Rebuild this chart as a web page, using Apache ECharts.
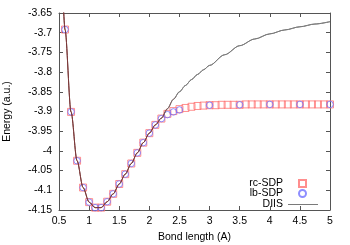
<!DOCTYPE html>
<html><head><meta charset="utf-8">
<script src="https://cdn.jsdelivr.net/npm/echarts@6/dist/echarts.min.js"></script>
<style>html,body{margin:0;padding:0;background:#fff}#c{width:350px;height:245px}</style>
</head><body><div id="c"></div>
<script>
var xTicks = [0.5, 1, 1.5, 2, 2.5, 3, 3.5, 4, 4.5, 5];
var yTicks = [-4.15, -4.1, -4.05, -4, -3.95, -3.9, -3.85, -3.8, -3.75, -3.7, -3.65];

var rcX = [0.6,0.7,0.8,0.9,1.0,1.1,1.2,1.3,1.4,1.5,1.6,1.7,1.8,1.9,2.0,2.1,2.2,2.3,2.4,2.5,
           2.6,2.7,2.8,2.9,3.0,3.1,3.2,3.3,3.4,3.5,3.6,3.7,3.8,3.9,4.0,4.1,4.2,4.3,4.4,4.5,4.6,4.7,4.8,4.9,5.0];
var rcY = [-3.692,-3.901,-4.025,-4.093,-4.130,-4.144,-4.144,-4.129,-4.109,-4.084,-4.059,-4.032,-4.005,-3.979,-3.955,-3.934,-3.918,-3.906,-3.899,-3.894,
           -3.891,-3.888,-3.886,-3.885,-3.884,-3.884,-3.883,-3.883,-3.883,-3.883,-3.882,-3.882,-3.882,-3.882,-3.882,-3.882,-3.882,-3.882,-3.882,-3.882,-3.882,-3.882,-3.882,-3.882,-3.882];

var lbX = [0.6,0.7,0.8,0.9,1.0,1.1,1.2,1.3,1.4,1.5,1.6,1.7,1.8,1.9,2.0,2.1,2.2,2.3,2.4,2.5,3.0,3.5,4.0,4.5,5.0];
var lbY = [-3.692,-3.901,-4.025,-4.093,-4.130,-4.144,-4.144,-4.129,-4.109,-4.084,-4.059,-4.032,-4.005,-3.979,-3.955,-3.934,-3.918,-3.908,-3.901,-3.896,-3.884,-3.883,-3.882,-3.882,-3.882];

var diisX = [0.55,0.6,0.7,0.8,0.9,1.0,1.1,1.2,1.3,1.4,1.5,1.6,1.7,1.8,1.9,2.0,2.1,2.2,2.3,2.4,2.5,2.6,2.7,2.8,2.9,3.0,3.25,3.5,3.75,4.0,4.25,4.5,4.75,5.0];
var diisY = [-3.55,-3.692,-3.901,-4.025,-4.093,-4.130,-4.144,-4.144,-4.129,-4.109,-4.084,-4.059,-4.032,-4.005,-3.979,-3.955,-3.934,-3.917,-3.893,-3.869,-3.850,-3.834,-3.819,-3.806,-3.794,-3.783,-3.756,-3.733,-3.716,-3.703,-3.693,-3.685,-3.678,-3.672];

function pairs(xs, ys){ return xs.map(function(x,i){ return [x, ys[i]]; }); }
function fmt(v){ return String(parseFloat(v.toFixed(2))); }

var FONT = 'Liberation Sans';
var axisCol = '#555';
var rcCol = '#ff7272', lbCol = '#7272ff', diisDark = '#7a3838', diisGray = '#7a7a7a';
var chart = echarts.init(document.getElementById('c'), null, {renderer:'canvas'});
var xCommon = {type:'value', min:0.5, max:5, interval:0.5,
  axisLine:{show:true, onZero:false, lineStyle:{color:axisCol, width:1}},
  axisTick:{show:true, inside:true, length:4, lineStyle:{color:axisCol}},
  splitLine:{show:false}};
var yCommon = {type:'value', min:-4.15, max:-3.65, interval:0.05,
  axisLine:{show:true, onZero:false, lineStyle:{color:axisCol, width:1}},
  axisTick:{show:true, inside:true, length:4, lineStyle:{color:axisCol}},
  splitLine:{show:false}};
var legText = {fontFamily:FONT, fontSize:10.5, color:'#000', lineHeight:10};

chart.setOption({
  animation:false,
  textStyle:{fontFamily:FONT},
  grid:{left:59, right:20, top:13, bottom:35, containLabel:false, outerBoundsMode:'none'},
  xAxis:[
    Object.assign({}, xCommon, {position:'bottom', name:'Bond length (A)', nameLocation:'middle', nameGap:21,
      nameTextStyle:{fontFamily:FONT, fontSize:10.5, color:'#000'},
      axisLabel:{show:true, margin:6, fontFamily:FONT, fontSize:10.5, color:'#000', formatter:fmt}}),
    Object.assign({}, xCommon, {position:'top', axisLabel:{show:false}})
  ],
  yAxis:[
    Object.assign({}, yCommon, {position:'left', name:'Energy (a.u.)', nameLocation:'middle', nameGap:46, nameRotate:90,
      nameTextStyle:{fontFamily:FONT, fontSize:10.5, color:'#000'},
      axisLabel:{show:true, margin:7, fontFamily:FONT, fontSize:10.5, color:'#000', formatter:fmt}}),
    Object.assign({}, yCommon, {position:'right', axisLabel:{show:false}})
  ],
  legend:[
    {orient:'vertical', align:'right', right:43, bottom:46, padding:0,
     itemWidth:7, itemHeight:7, itemGap:-1,
     textStyle:Object.assign({padding:[0,11,0,0]}, legText),
     data:['rc-SDP','lb-SDP']},
    {orient:'vertical', align:'right', right:32, bottom:35, padding:0,
     itemWidth:30, itemHeight:1,
     textStyle:legText,
     data:[{name:'DIIS', icon:'rect', itemStyle:{color:diisGray, borderWidth:0}}]}
  ],
  series:[
    {name:'rc-SDP', type:'scatter', data:pairs(rcX, rcY), symbol:'rect', symbolSize:7,
      itemStyle:{color:'rgba(255,255,255,0)', borderColor:rcCol, borderWidth:1}, z:2},
    {name:'lb-SDP', type:'scatter', data:pairs(lbX, lbY), symbol:'circle', symbolSize:6.5,
      itemStyle:{color:'rgba(255,255,255,0)', borderColor:lbCol, borderWidth:1}, z:3},
    {name:'DIIS', type:'line', data:pairs(diisX, diisY), symbol:'none', showSymbol:false, smooth:0.3, smoothMonotone:'x',
      clip:true, lineStyle:{color:diisGray, width:1}, itemStyle:{color:diisGray}, z:4}
  ]
});

// colour the DIIS line darker where it runs through the markers, using the chart's own x scale
var px0 = chart.convertToPixel({xAxisIndex:0}, 0.5);
var px1 = chart.convertToPixel({xAxisIndex:0}, 5);
var pxs = chart.convertToPixel({xAxisIndex:0}, 2.25);
var off = (pxs - px0) / (px1 - px0);
chart.setOption({series:[{}, {}, {lineStyle:{color:new echarts.graphic.LinearGradient(px0, 0, px1, 0, [
  {offset:0, color:diisDark}, {offset:Math.max(0, off - 0.03), color:diisDark},
  {offset:Math.min(1, off + 0.05), color:diisGray}, {offset:1, color:diisGray}], true)}}]});
</script></body></html>
